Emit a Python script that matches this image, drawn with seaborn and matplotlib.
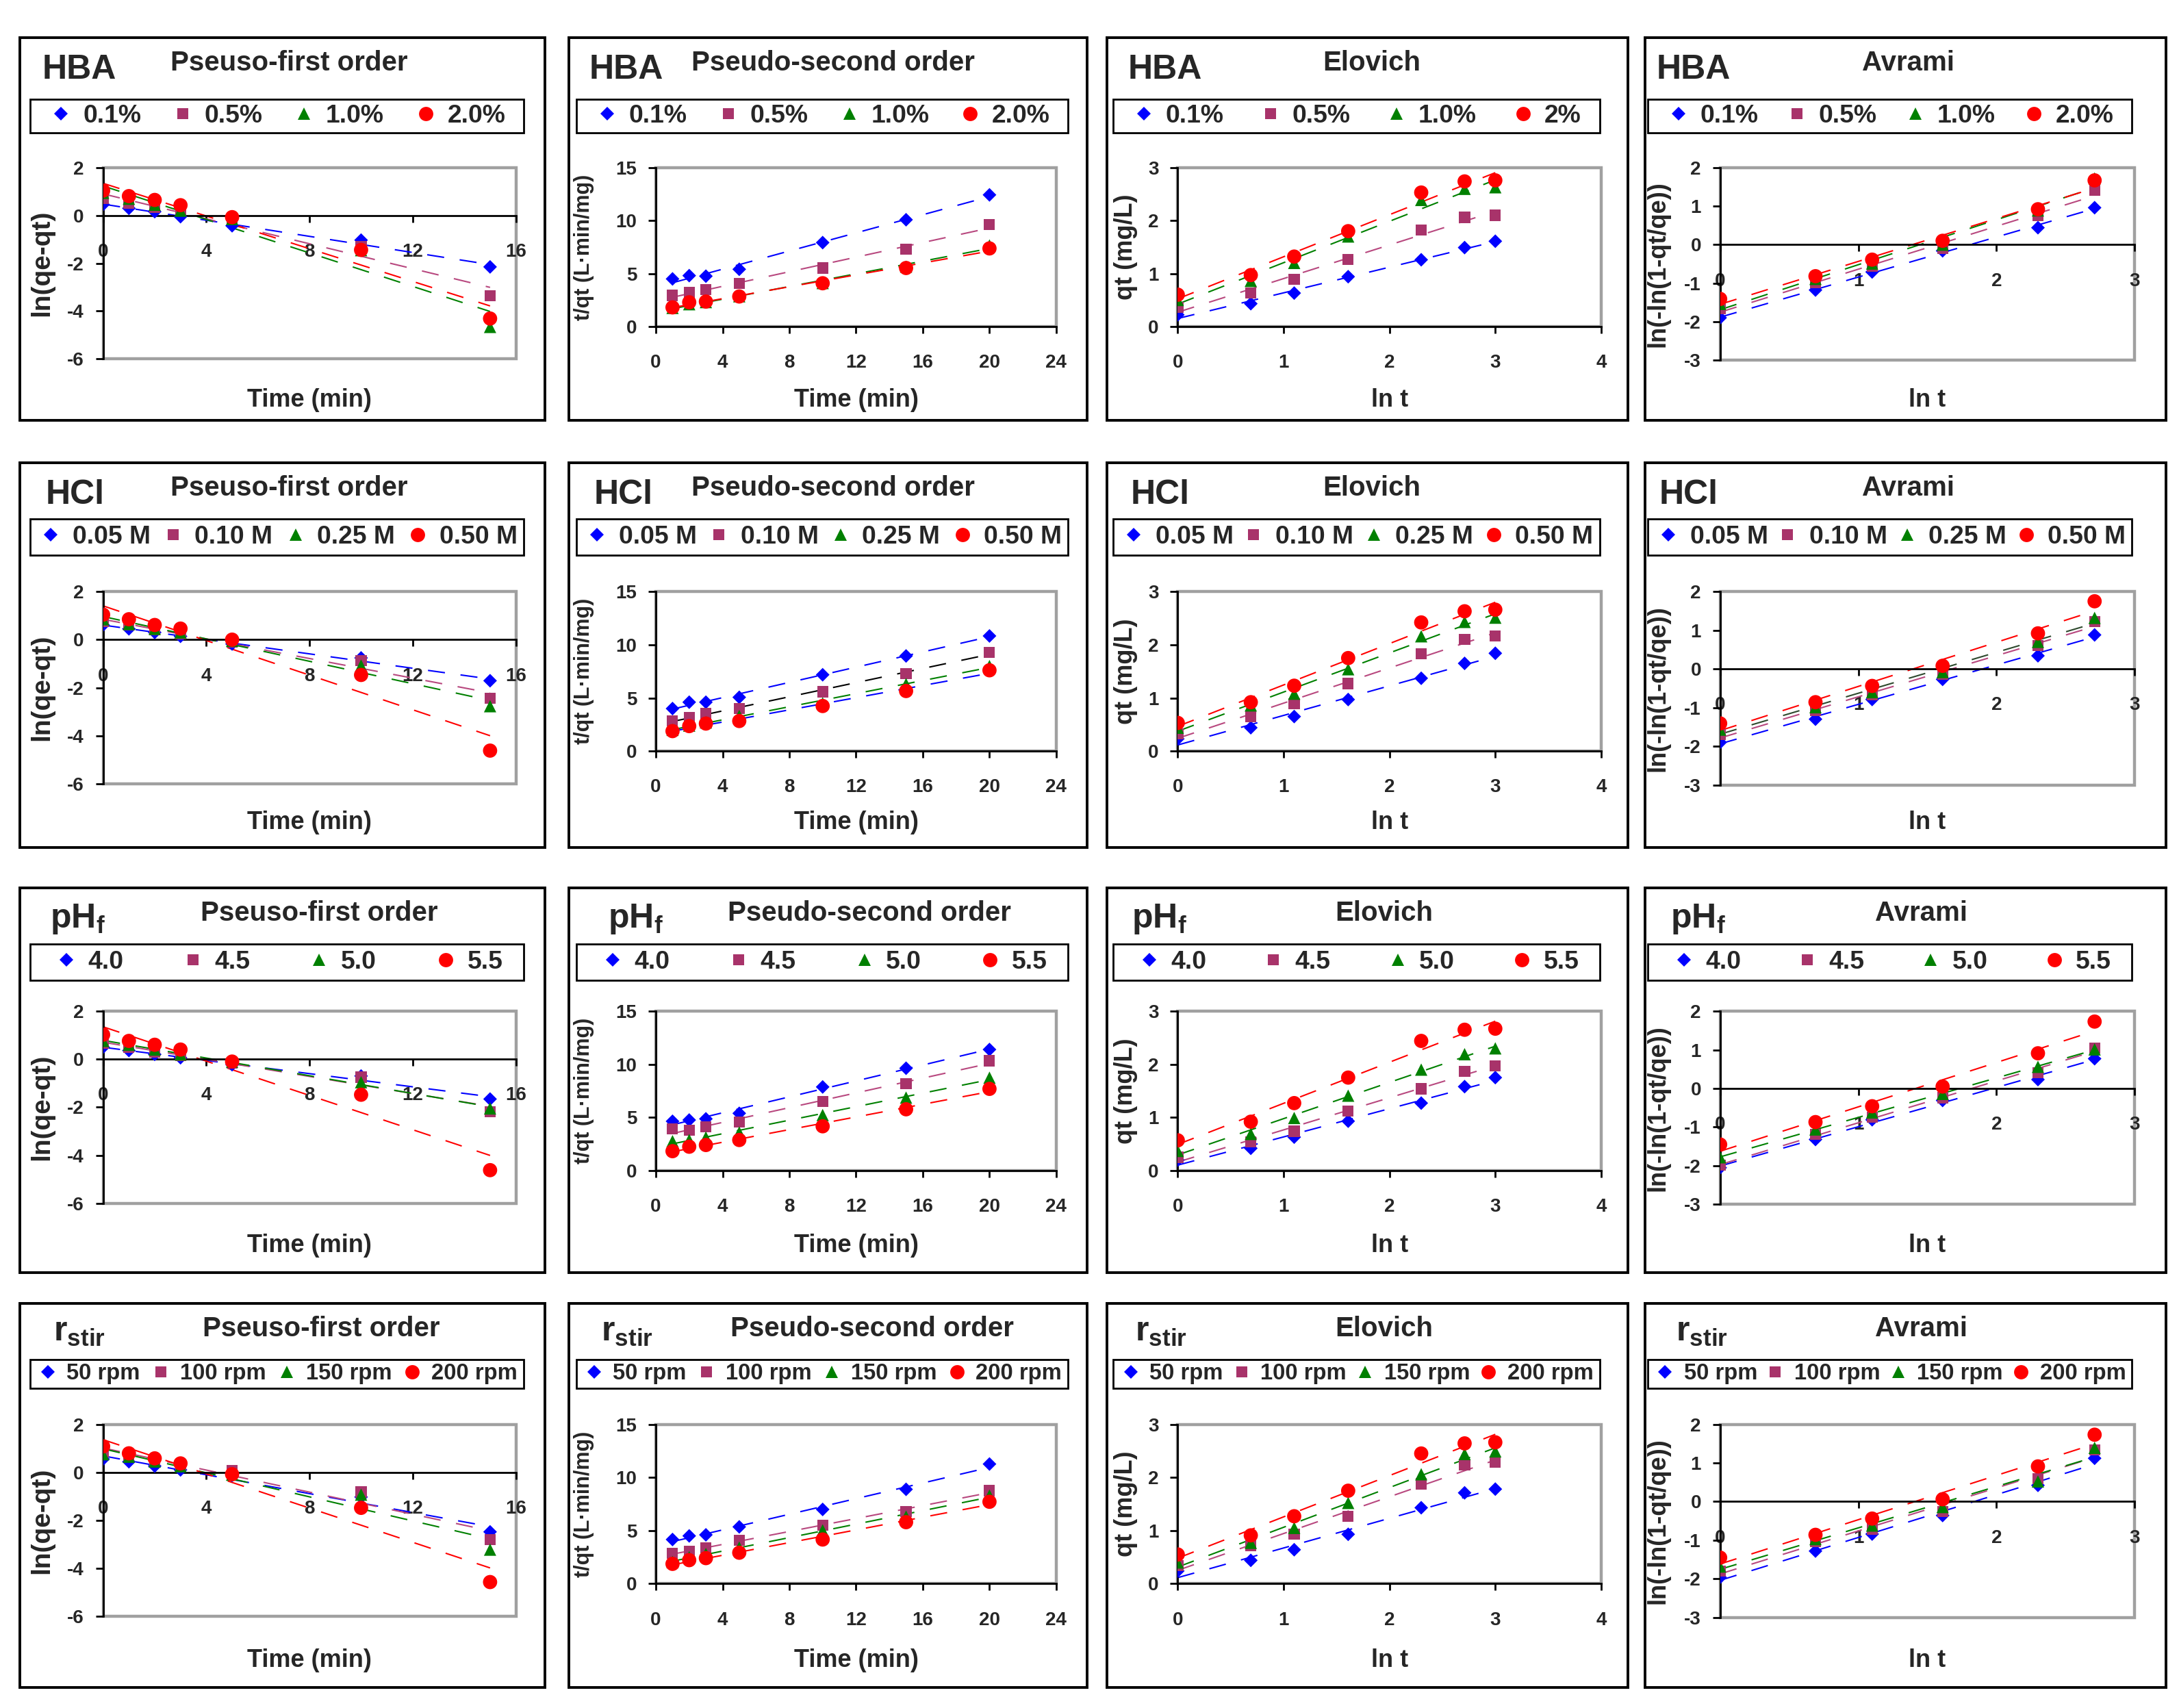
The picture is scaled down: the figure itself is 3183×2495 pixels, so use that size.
import numpy as np
import matplotlib
matplotlib.use('Agg')
import matplotlib.pyplot as plt
from matplotlib.lines import Line2D
from matplotlib.patches import Rectangle
import seaborn as sns

# ---- values ----
t_pfo = [0, 1, 2, 3, 5, 10, 15]
t_pso = [1, 2, 3, 5, 10, 15, 20]
lnt_elo = [0.0, 0.69, 1.10, 1.61, 2.30, 2.71, 3.00]
lnt_avr = [0.0, 0.69, 1.10, 1.61, 2.30, 2.71]

model_titles = ['Pseuso-first order', 'Pseudo-second order', 'Elovich', 'Avrami']
row_names = ['HBA', 'HCl', r'$\mathbf{pH}_\mathbf{f}$', r'$\mathbf{r}_\mathbf{stir}$']

hba_labels = ['0.1%', '0.5%', '1.0%', '2.0%']
hba_labels_elovich = ['0.1%', '0.5%', '1.0%', '2%']
hcl_labels = ['0.05 M', '0.10 M', '0.25 M', '0.50 M']
ph_labels = ['4.0', '4.5', '5.0', '5.5']
stir_labels = ['50 rpm', '100 rpm', '150 rpm', '200 rpm']

hba_pfo = [[0.46, 0.30, 0.16, -0.05, -0.43, -1.03, -2.15],
           [0.72, 0.51, 0.35, 0.19, -0.18, -1.30, -3.35],
           [0.95, 0.70, 0.45, 0.20, -0.15, -1.45, -4.66],
           [1.04, 0.81, 0.65, 0.43, -0.07, -1.44, -4.31]]
hba_pso = [[4.49, 4.80, 4.75, 5.40, 7.92, 10.08, 12.43],
           [2.93, 3.19, 3.48, 4.08, 5.52, 7.32, 9.65],
           [1.75, 2.10, 2.30, 2.85, 4.10, 5.65, 7.65],
           [1.80, 2.28, 2.35, 2.83, 4.08, 5.52, 7.37]]
hba_elo = [[0.22, 0.43, 0.63, 0.94, 1.26, 1.49, 1.61],
           [0.36, 0.63, 0.89, 1.27, 1.82, 2.06, 2.10],
           [0.50, 0.86, 1.20, 1.70, 2.39, 2.60, 2.63],
           [0.60, 0.97, 1.32, 1.80, 2.53, 2.74, 2.76]]
hba_avr = [[-1.90, -1.18, -0.71, -0.16, 0.44, 0.96],
           [-1.67, -0.98, -0.56, -0.10, 0.75, 1.42],
           [-1.54, -0.89, -0.49, 0.00, 0.89, 1.72],
           [-1.41, -0.82, -0.39, 0.10, 0.92, 1.67]]

hcl_pfo = [[0.61, 0.45, 0.30, 0.14, -0.18, -0.76, -1.71],
           [0.75, 0.60, 0.40, 0.25, -0.10, -0.87, -2.45],
           [0.85, 0.65, 0.45, 0.30, -0.05, -1.08, -2.77],
           [1.04, 0.85, 0.61, 0.46, 0.00, -1.47, -4.62]]
hcl_pso = [[4.00, 4.60, 4.60, 5.06, 7.18, 8.95, 10.83],
           [2.87, 3.18, 3.53, 4.00, 5.58, 7.30, 9.30],
           [2.00, 2.40, 2.70, 3.30, 4.50, 6.30, 8.00],
           [1.88, 2.35, 2.59, 2.83, 4.24, 5.65, 7.60]]
hcl_elo = [[0.23, 0.44, 0.65, 0.97, 1.37, 1.65, 1.84],
           [0.32, 0.65, 0.89, 1.27, 1.83, 2.10, 2.17],
           [0.44, 0.86, 1.08, 1.54, 2.16, 2.43, 2.51],
           [0.53, 0.92, 1.23, 1.75, 2.42, 2.63, 2.66]]
hcl_avr = [[-1.90, -1.30, -0.79, -0.27, 0.34, 0.88],
           [-1.70, -1.08, -0.66, -0.14, 0.60, 1.22],
           [-1.57, -0.99, -0.60, -0.08, 0.70, 1.32],
           [-1.41, -0.86, -0.44, 0.08, 0.92, 1.75]]

ph_pfo = [[0.50, 0.36, 0.20, 0.06, -0.23, -0.70, -1.66],
          [0.66, 0.50, 0.30, 0.15, -0.15, -0.75, -2.18],
          [0.76, 0.60, 0.40, 0.20, -0.10, -0.96, -2.05],
          [1.02, 0.76, 0.60, 0.40, -0.10, -1.48, -4.62]]
ph_pso = [[4.64, 4.76, 4.87, 5.39, 7.87, 9.63, 11.39],
          [3.94, 3.82, 4.10, 4.57, 6.52, 8.16, 10.34],
          [2.77, 2.88, 3.12, 3.59, 5.23, 6.87, 8.74],
          [1.83, 2.25, 2.41, 2.88, 4.17, 5.77, 7.69]]
ph_elo = [[0.20, 0.42, 0.63, 0.93, 1.27, 1.58, 1.75],
          [0.25, 0.54, 0.74, 1.12, 1.54, 1.87, 1.97],
          [0.37, 0.69, 0.99, 1.41, 1.90, 2.19, 2.30],
          [0.57, 0.92, 1.27, 1.75, 2.44, 2.65, 2.67]]
ph_avr = [[-2.05, -1.32, -0.81, -0.31, 0.23, 0.77],
          [-1.99, -1.19, -0.75, -0.24, 0.40, 1.05],
          [-1.78, -1.06, -0.62, -0.14, 0.56, 1.01],
          [-1.45, -0.87, -0.46, 0.05, 0.91, 1.73]]

stir_pfo = [[0.55, 0.44, 0.26, 0.10, -0.13, -1.03, -2.48],
            [0.85, 0.70, 0.50, 0.30, 0.08, -0.82, -2.80],
            [0.75, 0.65, 0.45, 0.25, -0.10, -0.93, -3.22],
            [1.08, 0.79, 0.58, 0.37, -0.08, -1.48, -4.57]]
stir_pso = [[4.16, 4.50, 4.60, 5.35, 6.99, 8.88, 11.26],
            [2.85, 3.04, 3.39, 4.09, 5.49, 6.78, 8.76],
            [2.05, 2.50, 2.80, 3.40, 5.02, 6.31, 8.29],
            [1.87, 2.22, 2.41, 2.92, 4.16, 5.79, 7.71]]
stir_elo = [[0.24, 0.44, 0.64, 0.93, 1.43, 1.71, 1.78],
            [0.34, 0.72, 0.93, 1.27, 1.88, 2.23, 2.29],
            [0.40, 0.77, 1.05, 1.52, 2.06, 2.44, 2.49],
            [0.55, 0.91, 1.27, 1.75, 2.45, 2.64, 2.66]]
stir_avr = [[-1.96, -1.28, -0.84, -0.36, 0.42, 1.12],
            [-1.80, -1.03, -0.71, -0.26, 0.59, 1.34],
            [-1.68, -0.97, -0.62, -0.14, 0.52, 1.39],
            [-1.45, -0.86, -0.44, 0.06, 0.91, 1.73]]

x_values = [t_pfo, t_pso, lnt_elo, lnt_avr]
rows = [
    ([hba_labels, hba_labels, hba_labels_elovich, hba_labels], [hba_pfo, hba_pso, hba_elo, hba_avr]),
    ([hcl_labels] * 4, [hcl_pfo, hcl_pso, hcl_elo, hcl_avr]),
    ([ph_labels] * 4, [ph_pfo, ph_pso, ph_elo, ph_avr]),
    ([stir_labels] * 4, [stir_pfo, stir_pso, stir_elo, stir_avr]),
]

# ---- styling ----
sns.set_theme(style='white')
plt.rcParams['font.family'] = ['Liberation Sans', 'DejaVu Sans']
plt.rcParams['font.weight'] = 'bold'
plt.rcParams['axes.unicode_minus'] = False
plt.rcParams['mathtext.fontset'] = 'custom'
plt.rcParams['mathtext.rm'] = 'Liberation Sans:bold'
plt.rcParams['mathtext.bf'] = 'Liberation Sans:bold'

marker_colors = ['#0000FF', '#A8336A', '#008000', '#FF0000']
line_colors = ['#0000FF', '#B8487F', '#008000', '#FF0000']
line_overrides = {(1, 1): {1: 'black', 3: '#0000FF'}, (1, 3): {2: '#2E4A2E'}}
markers = ['D', 's', '^', 'o']
scat_sizes = [26, 34, 42, 56]
leg_ms = [5.0, 6.0, 6.5, 7.5]

xlims = [(0, 16), (0, 24), (0, 4), (0, 3)]
xsteps = [4, 4, 1, 1]
ylims = [(-6, 2), (0, 15), (0, 3), (-3, 2)]
ysteps = [2, 5, 1, 1]
ylabels = ['ln(qe-qt)', 't/qt (L\u00b7min/mg)', 'qt (mg/L)', 'ln(-ln(1-qt/qe))']
ylab_sizes = [14, 11, 13, 13]
xlabels = ['Time (min)', 'Time (min)', 'ln t', 'ln t']

col_left = [0.009, 0.261, 0.508, 0.755]
col_right = [0.250, 0.499, 0.747, 0.994]
row_top = [0.022, 0.271, 0.520, 0.763]
row_bot = [0.246, 0.496, 0.745, 0.988]

plot_x = [(0.159, 0.945), (0.168, 0.940), (0.136, 0.949), (0.144, 0.940)]
plot_top = 0.34
plot_bot = [0.84, 0.755, 0.755, 0.843]
row_shift = [0, -0.005, -0.02, -0.025]
leg_top = [0.161, 0.146, 0.146, 0.146]
leg_bot = [0.249, 0.240, 0.240, 0.222]
leg_x = [(0.02, 0.96), (0.015, 0.963), (0.012, 0.946), (0.005, 0.935)]
leg_inset = [(0.035, 0.035), (0.015, 0.012), (0.045, 0.04), (0.012, 0.012)]
leg_size = [13.4, 13.4, 13.4, 11.8]
name_x = [[0.043, 0.04, 0.04, 0.022],
          [0.05, 0.049, 0.046, 0.027],
          [0.058, 0.075, 0.048, 0.049],
          [0.064, 0.062, 0.054, 0.059]]
name_y = [0.084, 0.084, 0.08, 0.075]
sub_x = [[0.513, 0.51, 0.508, 0.505],
         [0.513, 0.51, 0.508, 0.505],
         [0.57, 0.58, 0.532, 0.53],
         [0.574, 0.585, 0.532, 0.53]]
sub_y = 0.066
ylab_x = [0.043, 0.03, 0.036, 0.025]
xlab_y = [0.948, 0.936, 0.93, 0.929]

fig = plt.figure(figsize=(15.915, 12.475), dpi=200)
fig.patch.set_facecolor('white')

for r, (labels_row, data_row) in enumerate(rows):
    for c in range(4):
        x0 = col_left[c]
        pw = col_right[c] - x0
        ytop = 1 - row_top[r]
        ph = row_bot[r] - row_top[r]

        def fx(f):
            return x0 + f * pw

        def fy(f):
            return ytop - f * ph

        fig.add_artist(Rectangle((x0, ytop - ph), pw, ph, transform=fig.transFigure,
                                 fill=False, ec='black', lw=1.4))

        top = plot_top + row_shift[r]
        bot = plot_bot[c] + row_shift[r]
        ax = fig.add_axes([fx(plot_x[c][0]), fy(bot),
                           (plot_x[c][1] - plot_x[c][0]) * pw, (bot - top) * ph])
        ax.set_facecolor('white')

        xv = np.array(x_values[c])
        for i, yv in enumerate(data_row[c]):
            lc = line_overrides.get((r, c), {}).get(i, line_colors[i])
            sns.regplot(x=xv, y=np.array(yv), ax=ax, ci=None, truncate=True,
                        marker=markers[i], color=marker_colors[i],
                        scatter_kws=dict(s=scat_sizes[i], alpha=1, linewidths=0,
                                         edgecolors='none', zorder=3 + i),
                        line_kws=dict(color=lc, lw=0.75, linestyle=(0, (12, 11)), zorder=2))
        ax.set_xlabel('')
        ax.set_ylabel('')
        ax.set_xlim(*xlims[c])
        ax.set_ylim(*ylims[c])
        ax.set_xticks(np.arange(xlims[c][0], xlims[c][1] + 0.01, xsteps[c]))
        ax.set_yticks(np.arange(ylims[c][0], ylims[c][1] + 0.01, ysteps[c]))
        ax.grid(False)
        ax.spines['top'].set_visible(False)
        ax.spines['right'].set_visible(False)
        ax.spines['bottom'].set_position(('data', 0))
        for s in ['left', 'bottom']:
            ax.spines[s].set_color('black')
            ax.spines[s].set_linewidth(1.0)
            ax.spines[s].set_visible(True)
        ax.add_patch(Rectangle((0, 0), 1, 1, transform=ax.transAxes, fill=False,
                               ec='#A0A0A0', lw=1.6, clip_on=False, zorder=0.5))
        ax.tick_params(axis='x', bottom=True, direction='out', length=3.5, width=1,
                       pad=11, labelsize=10, color='black')
        ax.tick_params(axis='y', left=True, direction='out', length=4, width=1,
                       pad=6, labelsize=10, color='black')

        # panel texts
        fig.text(fx(name_x[r][c]), fy(name_y[r]), row_names[r], fontsize=18,
                 fontweight='bold', ha='left', va='center')
        fig.text(fx(sub_x[r][c]), fy(sub_y), model_titles[c], fontsize=14.5,
                 fontweight='bold', ha='center', va='center')
        ax_cx = fx((plot_x[c][0] + plot_x[c][1]) / 2)
        ax_cy = fy((top + bot) / 2)
        fig.text(ax_cx, fy(xlab_y[r]), xlabels[c], fontsize=13, fontweight='bold',
                 ha='center', va='center')
        fig.text(fx(ylab_x[c]), ax_cy, ylabels[c], fontsize=ylab_sizes[c],
                 fontweight='bold', rotation=90, ha='center', va='center')

        # legend box: frame drawn separately, entries spread inside it
        lt = leg_top[r]
        lb = leg_bot[r]
        lx0, lx1 = leg_x[c]
        fig.add_artist(Rectangle((fx(lx0), fy(lb)), (lx1 - lx0) * pw, (lb - lt) * ph,
                                 transform=fig.transFigure, fill=False, ec='black', lw=1.0))
        inl, inr = leg_inset[r]
        handles = [Line2D([], [], ls='none', marker=markers[i], color=marker_colors[i],
                          markeredgewidth=0, markersize=leg_ms[i]) for i in range(4)]
        fig.legend(handles, labels_row[c], loc='center',
                   bbox_to_anchor=(fx(lx0 + inl), fy(lb), (lx1 - lx0 - inl - inr) * pw,
                                   (lb - lt) * ph),
                   mode='expand', ncol=4, frameon=False, borderaxespad=0, borderpad=0.0,
                   handlelength=1.0, handletextpad=0.35, columnspacing=0.4,
                   prop={'size': leg_size[r], 'weight': 'bold'})

fig.savefig('out.png', dpi=200, facecolor='white')
